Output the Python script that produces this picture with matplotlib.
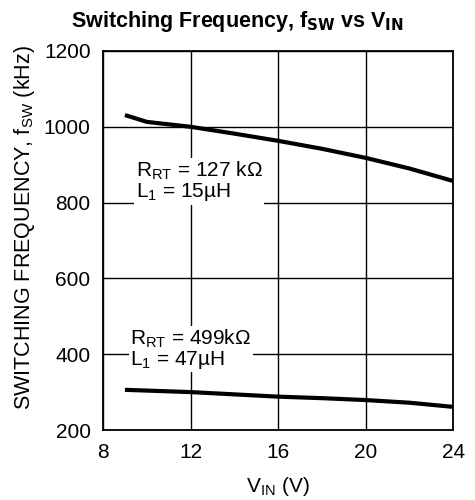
import numpy as np
import matplotlib.pyplot as plt

plt.rcParams['font.family'] = ['Liberation Sans', 'DejaVu Sans']

# dati
vin = [9, 10, 12, 14, 16, 18, 20, 22, 24]
fsw_127k = [1031, 1013, 1000, 982, 963, 942, 918, 890, 857]
fsw_499k = [306, 304, 300, 294, 288, 284, 279, 272, 261]

x_ticks = [8, 12, 16, 20, 24]
y_ticks = [200, 400, 600, 800, 1000, 1200]

fig = plt.figure(figsize=(4.75, 5), dpi=100)
ax = fig.add_axes([0.217, 0.14, 0.737, 0.758])

ax.plot(vin, fsw_127k, color='black', linewidth=3, solid_capstyle='butt', zorder=3)
ax.plot(vin, fsw_499k, color='black', linewidth=3, solid_capstyle='butt', zorder=3)

ax.set_xlim(8, 24)
ax.set_ylim(200, 1200)
ax.set_xticks(x_ticks)
ax.set_yticks(y_ticks)
ax.tick_params(length=0, labelsize=15, pad=9)
ax.grid(True, color='black', linewidth=1.0)
for s in ax.spines.values():
    s.set_linewidth(1.3)

# etichette con sfondo bianco che coprono la griglia
box = dict(facecolor='white', edgecolor='none', pad=1)
ax.text(9.5, 856, 'R$_\\mathregular{RT}$ = 127 k\u03a9\nL$_\\mathregular{1}$ = 15\u00b5H',
        fontsize=15, va='center', ha='left', linespacing=0.95, bbox=box, zorder=2)
ax.text(9.25, 414, 'R$_\\mathregular{RT}$ = 499k\u03a9\nL$_\\mathregular{1}$ = 47\u00b5H',
        fontsize=15, va='center', ha='left', linespacing=0.95, bbox=box, zorder=2)

ax.set_xlabel('V$_\\mathregular{IN}$ (V)', fontsize=15, labelpad=10)
ax.set_ylabel('SWITCHING FREQUENCY, f$_\\mathregular{SW}$ (kHz)', fontsize=15.5, labelpad=8)
ax.yaxis.set_label_coords(-0.19, 0.535)

# titolo centrato sulla figura, non sugli assi
fig.text(0.5, 0.958, 'Switching Frequency, f$_\\mathbf{SW}$ vs V$_\\mathbf{IN}$',
         fontsize=15.5, fontweight='bold', ha='center', va='center')

fig.savefig('out.png', dpi=100)
